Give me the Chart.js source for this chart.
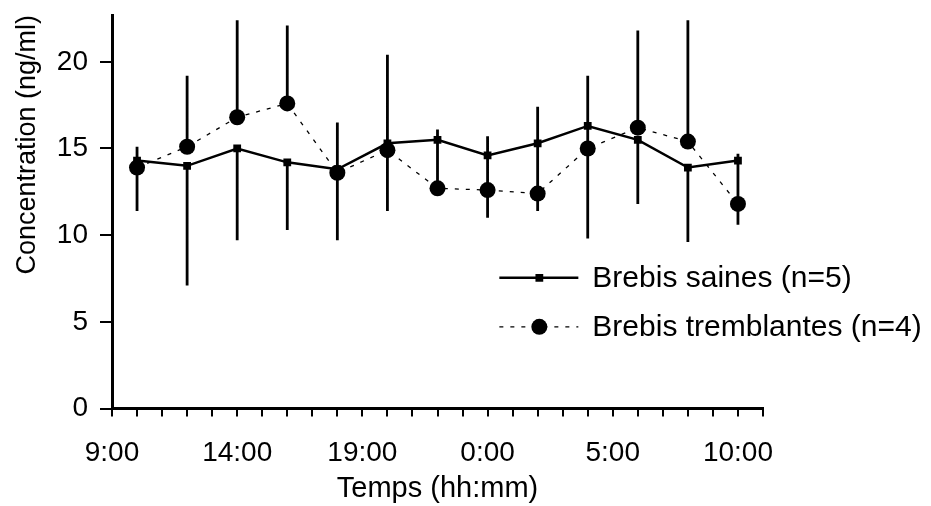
<!DOCTYPE html>
<html>
<head>
<meta charset="utf-8">
<script src="https://cdn.jsdelivr.net/npm/chart.js@4.4.1/dist/chart.umd.min.js"></script>
<style>
  html, body { margin: 0; padding: 0; background: #fff; }
  canvas { display: block; }
</style>
</head>
<body>
<canvas id="chart" width="931" height="506"></canvas>
<script>
// heures de prélèvement (10:00 jour 1 -> 10:00 jour 2), en heures depuis minuit jour 1
const heures = [10, 12, 14, 16, 18, 20, 22, 24, 26, 28, 30, 32, 34]

// Brebis saines (n=5) : moyenne et écart vers le bas
const sainesMoy = [14.3, 14.0, 15.0, 14.2, 13.8, 15.3, 15.5, 14.6, 15.3, 16.3, 15.5, 13.9, 14.3]
const sainesEcart = [2.9, 6.9, 5.3, 3.9, 4.1, 3.9, 2.3, 3.6, 3.9, 6.5, 3.7, 4.3, 3.7]

// Brebis tremblantes (n=4) : moyenne et écart vers le haut
const tremblMoy = [13.9, 15.1, 16.8, 17.6, 13.6, 14.9, 12.7, 12.6, 12.4, 15.0, 16.2, 15.4, 11.8]
const tremblEcart = [1.2, 4.1, 5.6, 4.5, 2.9, 5.5, 3.4, 3.1, 5.0, 4.2, 5.6, 7.0, 2.9]

const tickHeures = [9, 14, 19, 24, 29, 34]
const tickLabels = ['9:00', '14:00', '19:00', '0:00', '5:00', '10:00']

const police = "'Liberation Sans', Arial, sans-serif"

function points(moy) {
    return heures.map((h, i) => ({ x: h, y: moy[i] }))
}

// barres d'erreur : saines vers le bas, tremblantes vers le haut
const errorBars = {
    id: 'errorBars',
    beforeDatasetsDraw(chart) {
        const ctx = chart.ctx
        const x = chart.scales.x, y = chart.scales.y
        ctx.save()
        ctx.strokeStyle = '#000'
        ctx.lineWidth = 2.8
        ctx.beginPath()
        heures.forEach((h, i) => {
            const px = x.getPixelForValue(h)
            ctx.moveTo(px, y.getPixelForValue(sainesMoy[i]))
            ctx.lineTo(px, y.getPixelForValue(sainesMoy[i] - sainesEcart[i]))
            ctx.moveTo(px, y.getPixelForValue(tremblMoy[i]))
            ctx.lineTo(px, y.getPixelForValue(tremblMoy[i] + tremblEcart[i]))
        })
        ctx.stroke()
        ctx.restore()
    }
}

// légende dans la zone du graphique
const legendeInterne = {
    id: 'legendeInterne',
    afterDraw(chart) {
        const ctx = chart.ctx
        const a = chart.chartArea
        const x0 = a.left + 0.595 * (a.right - a.left)
        const y0 = a.top + 0.668 * (a.bottom - a.top)
        ctx.save()
        chart.data.datasets.forEach((ds, i) => {
            const y = y0 + i * 49
            ctx.strokeStyle = '#000'
            ctx.fillStyle = '#000'
            ctx.lineWidth = ds.borderWidth
            ctx.setLineDash(ds.borderDash || [])
            ctx.beginPath()
            ctx.moveTo(x0, y)
            ctx.lineTo(x0 + 79, y)
            ctx.stroke()
            ctx.setLineDash([])
            Chart.helpers.drawPoint(ctx, {
                pointStyle: ds.pointStyle,
                radius: ds.pointRadius,
                rotation: 0,
                borderWidth: 0
            }, x0 + 40, y)
            ctx.font = '30px ' + police
            ctx.textBaseline = 'middle'
            ctx.textAlign = 'left'
            ctx.fillText(ds.label, x0 + 93, y + 1)
        })
        ctx.restore()
    }
}

new Chart(document.getElementById('chart').getContext('2d'), {
    type: 'line',
    data: {
        datasets: [{
            label: 'Brebis saines (n=5)',
            data: points(sainesMoy),
            borderColor: '#000',
            backgroundColor: '#000',
            borderWidth: 2.5,
            pointStyle: 'rect',
            pointRadius: 5.5,
            pointBackgroundColor: '#000',
            pointBorderWidth: 0,
            tension: 0
        }, {
            label: 'Brebis tremblantes (n=4)',
            data: points(tremblMoy),
            borderColor: '#000',
            backgroundColor: '#000',
            borderWidth: 1.3,
            borderDash: [4, 7],
            pointStyle: 'circle',
            pointRadius: 8,
            pointBackgroundColor: '#000',
            pointBorderWidth: 0,
            tension: 0
        }]
    },
    options: {
        responsive: false,
        animation: false,
        devicePixelRatio: 1,
        layout: { padding: { left: 0, right: 168, top: 15, bottom: 0 } },
        plugins: {
            legend: { display: false },
            tooltip: { enabled: false }
        },
        scales: {
            x: {
                type: 'linear',
                min: 9,
                max: 35,
                border: { color: '#000', width: 3 },
                grid: { drawOnChartArea: false, color: '#000', lineWidth: 2, tickLength: 8 },
                ticks: {
                    stepSize: 1,
                    autoSkip: false,
                    maxRotation: 0,
                    color: '#000',
                    padding: 20,
                    font: { family: police, size: 28 },
                    callback: v => {
                        const k = tickHeures.indexOf(v)
                        return k >= 0 ? tickLabels[k] : ''
                    }
                },
                title: {
                    display: true,
                    text: 'Temps (hh:mm)',
                    color: '#000',
                    font: { family: police, size: 29 },
                    padding: { top: 0, bottom: 0 }
                },
                afterFit: s => { s.height = 97.5 }
            },
            y: {
                min: 0,
                max: 22.7,
                border: { color: '#000', width: 3 },
                grid: { drawOnChartArea: false, color: '#000', lineWidth: 2, tickLength: 12 },
                ticks: {
                    stepSize: 5,
                    includeBounds: false,
                    color: '#000',
                    padding: 12,
                    font: { family: police, size: 28 }
                },
                title: {
                    display: true,
                    text: 'Concentration (ng/ml)',
                    align: 'end',
                    color: '#000',
                    font: { family: police, size: 27 },
                    padding: { top: 11, bottom: 0 }
                },
                afterFit: s => {
                    s.width = 112
                    s.paddingTop = 0
                    s.paddingBottom = 0
                }
            }
        }
    },
    plugins: [errorBars, legendeInterne]
})
</script>
</body>
</html>
